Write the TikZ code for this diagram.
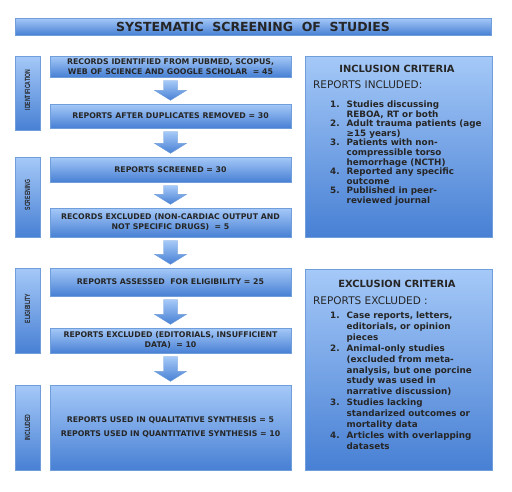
\documentclass[tikz,border=0pt]{standalone}
\usepackage{fontspec}
\setmainfont{DejaVu Sans}
\newfontfamily\narrowfont[FakeStretch=0.68]{Liberation Sans}
\usepackage{tikz}
\usetikzlibrary{calc,shadows}

\definecolor{boxtop}{RGB}{165,201,248}
\definecolor{boxbot}{RGB}{72,128,212}
\definecolor{boxedge}{RGB}{112,158,218}

\tikzset{
  bluebox/.style={draw=boxedge, top color=boxtop, bottom color=boxbot, inner sep=1pt,
    align=center, text=black!85, font=\bfseries\fontsize{7.8}{10}\selectfont,
    drop shadow={shadow xshift=1pt, shadow yshift=-1pt, opacity=0.25}},
  mainbox/.style={bluebox, minimum width=241pt},
  sidebar/.style={bluebox, minimum width=25pt},
  sidetext/.style={rotate=90, font=\narrowfont\bfseries\fontsize{7.5}{8}\selectfont, text=black!85},
  headtext/.style={font=\bfseries\fontsize{9.9}{10}\selectfont, text=black!85},
  subtext/.style={font=\fontsize{10.5}{11}\selectfont, text=black!85, anchor=west, inner sep=0pt},
  listtext/.style={anchor=north west, inner sep=0pt, text=black!85},
  arrowfill/.style={draw=boxedge, top color=boxtop, bottom color=boxbot}
}

\begin{document}
\begin{tikzpicture}[x=1pt, y=-1pt]
\useasboundingbox (0,0) rectangle (512,491);
\fill[white] (0,0) rectangle (512,491);

% title
\node[bluebox, minimum width=476pt, minimum height=17pt, font=\bfseries\fontsize{12.5}{13}\selectfont] (title) at (253,26.5)
  {SYSTEMATIC\ \ SCREENING\ \ OF\ \ STUDIES};

% phase bars
\node[sidebar, minimum height=74pt] (idbar) at (27.5,93) {};
\node[sidebar, minimum height=80pt] (scrbar) at (27.5,197) {};
\node[sidebar, minimum height=85pt] (eligbar) at (27.5,310.5) {};
\node[sidebar, minimum height=85pt] (inclbar) at (27.5,427.5) {};
\node[sidetext] (idtext) at ($(idbar.center)+(0,-3)$) {IDENTIFICATION};
\node[sidetext] (scrtext) at ($(scrbar.center)+(0,-2)$) {SCREENING};
\node[sidetext] (eligtext) at ($(eligbar.center)+(0,-2)$) {ELIGIBILITY};
\node[sidetext] (incltext) at (inclbar.center) {INCLUDED};

% flow boxes
\node[mainbox, minimum height=21pt] (rec) at (170.5,66.5)
  {RECORDS IDENTIFIED FROM PUBMED, SCOPUS,\\WEB OF SCIENCE AND GOOGLE SCHOLAR \ = 45};
\node[mainbox, minimum height=24pt] (dup) at (170.5,116) {REPORTS AFTER DUPLICATES REMOVED = 30};
\node[mainbox, minimum height=25pt] (scr) at (170.5,169.5) {REPORTS SCREENED = 30};
\node[mainbox, minimum height=29pt] (exa) at (170.5,222.5)
  {RECORDS EXCLUDED (NON-CARDIAC OUTPUT AND\\NOT SPECIFIC DRUGS) \ = 5};
\node[mainbox, minimum height=28pt] (elig) at (170.5,282) {REPORTS ASSESSED \ FOR ELIGIBILITY = 25};
\node[mainbox, minimum height=25pt] (exb) at (170.5,340.5)
  {REPORTS EXCLUDED (EDITORIALS, INSUFFICIENT\\DATA) \ = 10};
\node[mainbox, minimum height=85pt, font=\bfseries\fontsize{7.8}{14}\selectfont] (incl) at (170.5,427.5)
  {REPORTS USED IN QUALITATIVE SYNTHESIS = 5\\REPORTS USED IN QUANTITATIVE SYNTHESIS = 10};

% block arrows
\foreach \a/\b in {rec/dup, dup/scr, scr/exa, exa/elig, elig/exb, exb/incl}
  \path[arrowfill] let \p1=($(\a.south)+(0,3.5)$), \p2=($(\b.north)+(0,-3.5)$) in
    (\x1-7pt,\y1) -- (\x1+7pt,\y1) -- (\x1+7pt,\y2+10pt) -- (\x1+16pt,\y2+10pt)
    -- (\x1,\y2) -- (\x1-16pt,\y2+10pt) -- (\x1-7pt,\y2+10pt) -- cycle;

% criteria boxes
\node[bluebox, minimum width=187pt, minimum height=181pt] (inbox) at (398.5,146.5) {};
\node[headtext] (inhead) at (397,69) {INCLUSION CRITERIA};
\node[subtext] (insub) at (313,85) {REPORTS INCLUDED:};
\node[listtext, font=\bfseries\fontsize{8.8}{9.6}\selectfont] (inlist) at (330,100.5) {%
  \begin{tabular}{@{}r@{\hspace{7pt}}l@{}}
  1. & Studies discussing\\
     & REBOA, RT or both\\
  2. & Adult trauma patients (age\\
     & ≥15 years)\\
  3. & Patients with non-\\
     & compressible torso\\
     & hemorrhage (NCTH)\\
  4. & Reported any specific\\
     & outcome\\
  5. & Published in peer-\\
     & reviewed journal
  \end{tabular}};

\node[bluebox, minimum width=187pt, minimum height=201pt] (exbox) at (398.5,369.5) {};
\node[headtext] (exhead) at (397,284) {EXCLUSION CRITERIA};
\node[subtext] (exsub) at (313,301) {REPORTS EXCLUDED :};
\node[listtext, font=\bfseries\fontsize{8.8}{10.9}\selectfont] (exlist) at (330,310.7) {%
  \begin{tabular}{@{}r@{\hspace{7pt}}l@{}}
  1. & Case reports, letters,\\
     & editorials, or opinion\\
     & pieces\\
  2. & Animal-only studies\\
     & (excluded from meta-\\
     & analysis, but one porcine\\
     & study was used in\\
     & narrative discussion)\\
  3. & Studies lacking\\
     & standarized outcomes or\\
     & mortality data\\
  4. & Articles with overlapping\\
     & datasets
  \end{tabular}};
\end{tikzpicture}
\end{document}
